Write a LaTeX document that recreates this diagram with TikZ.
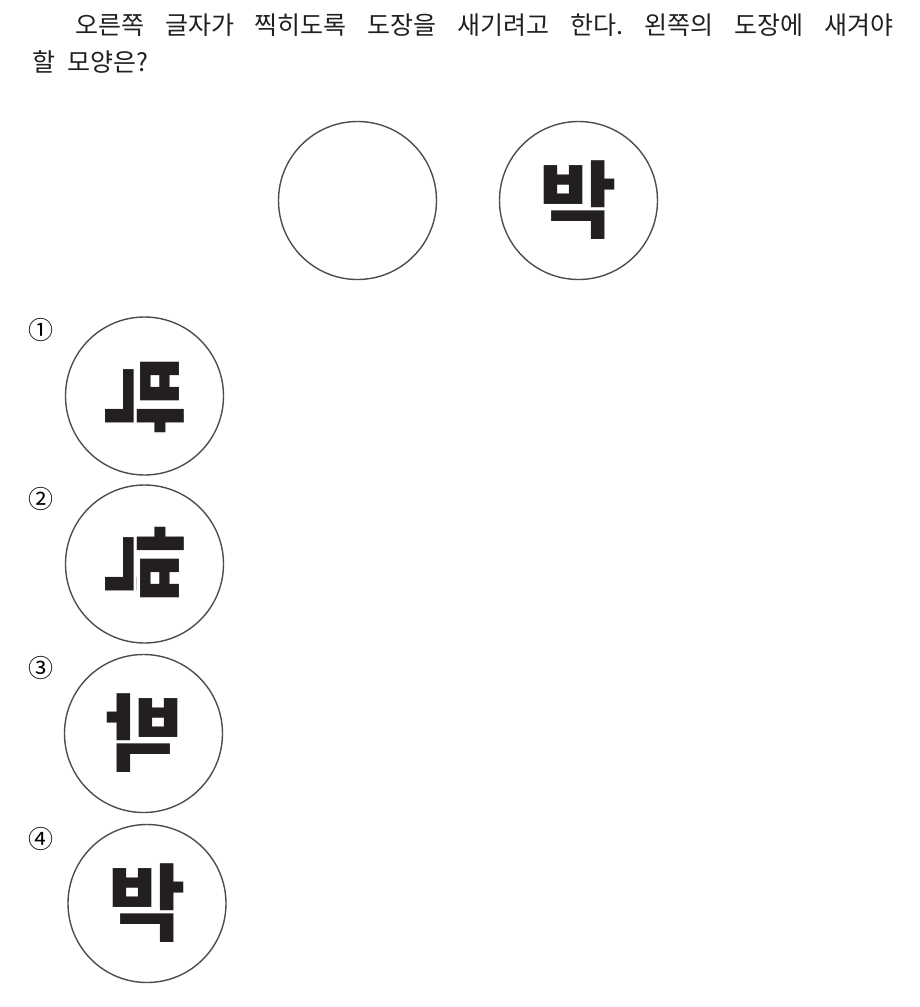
\documentclass[tikz,border=0pt]{standalone}
\usepackage{fontspec}
\newfontfamily\kr{Noto Sans CJK KR}
\newfontfamily\krg{Noto Sans CJK KR}
\definecolor{ink}{HTML}{231F20}
\definecolor{ringcol}{HTML}{4D4D4D}
\frenchspacing
\begin{document}
\begin{tikzpicture}[x=1pt,y=-1pt,
  ring/.style={draw=ringcol,line width=1.4pt,circle,minimum size=158pt,inner sep=0pt},
  glyph/.style={inner sep=0pt,text=ink,font=\krg\bfseries\fontsize{84}{84}\selectfont},
  qtext/.style={anchor=base west,inner sep=0pt,text=ink,font=\kr\fontsize{25}{25}\selectfont},
  num/.style={inner sep=0pt,text=black,font=\krg\fontsize{25}{25}\selectfont}]
\useasboundingbox (0,0) rectangle (920,1007);
\fill[white] (0,0) rectangle (920,1007);
% question
\node[qtext] (q1) at (75,34) {\makebox[818pt][s]{오른쪽 글자가 찍히도록 도장을 새기려고 한다. 왼쪽의 도장에 새겨야}};
\node[qtext] (q2) at (32,71) {\makebox[116pt][s]{할 모양은?}};
% top stamps
\node[ring] (s1) at (357.5,200.5) {};
\node[ring] (s2) at (578.5,200.5) {};
\node[glyph] (g0) at (s2) {박};
% option 1
\node[num] (n1) at (41,330) {①};
\node[ring] (o1) at (144.5,396) {};
\node[glyph,rotate=-90] (g1) at (o1) {박};
% option 2
\node[num] (n2) at (41,499) {②};
\node[ring] (o2) at (144.5,564) {};
\begin{scope}
\clip (60,480) rectangle (136,650);
\node[glyph,rotate=-90] (g2a) at (o2) {박};
\end{scope}
\begin{scope}
\clip (136,480) rectangle (230,650);
\node[glyph,cm={0,1,1,0,(0,0)}] (g2b) at (o2) {박};
\end{scope}
% option 3
\node[num] (n3) at (41,668) {③};
\node[ring] (o3) at (143.5,733.5) {};
\node[glyph,xscale=-1] (g3) at (o3) {박};
% option 4
\node[num] (n4) at (41,839) {④};
\node[ring] (o4) at (147,903.5) {};
\node[glyph] (g4) at (o4) {박};
\end{tikzpicture}
\end{document}
